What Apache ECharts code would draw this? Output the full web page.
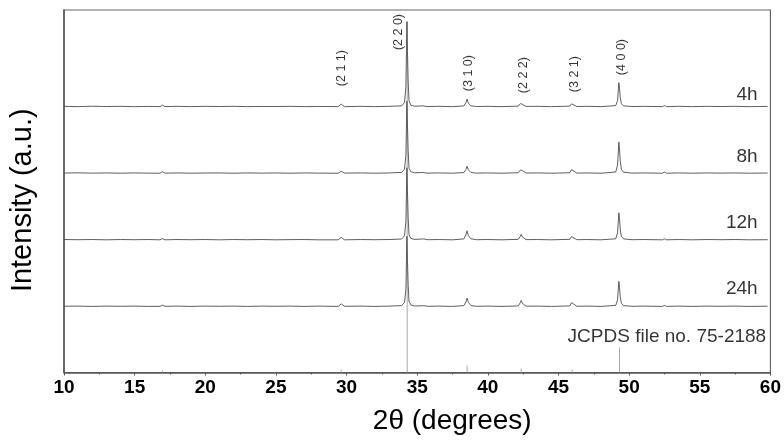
<!DOCTYPE html>
<html>
<head>
<meta charset="utf-8">
<script src="https://cdn.jsdelivr.net/npm/echarts@6/dist/echarts.min.js"></script>
<style>
html,body{margin:0;padding:0;background:#fff;}
#chart{width:784px;height:441px;}
</style>
</head>
<body>
<div id="chart"></div>
<script>
// ---- data (2θ in degrees, intensity in arbitrary units above each pattern's baseline) ----
const sampleNames = ['4h', '8h', '12h', '24h'];
const xTicks = [10, 15, 20, 25, 30, 35, 40, 45, 50, 55, 60];

const pattern4h = [[10,0.3],[11,0],[12,0.4],[13,0.1],[14,0.3],[15,0],[16,0.2],[16.8,0],[16.97,1.5],[17.15,0],[18,0.3],[19,0],[20,0.3],[21,0.1],[22,0.3],[23,0],[24,0.2],[25,0.1],[26,0.3],[27,0],[28,0.2],[29.4,0],[29.62,2.5],[29.85,0],[31,0.3],[32,0],[33,0.3],[33.9,0.8],[34.1,4],[34.2,20],[34.27,85],[34.31,55],[34.36,25],[34.42,6],[34.55,1.5],[34.8,0.4],[35.4,0.8],[35.7,0.1],[36.5,0.3],[37.5,0],[38.3,0.7],[38.45,4],[38.53,7.5],[38.62,3.5],[38.8,0.8],[39.2,0.1],[40,0.3],[41,0],[42.15,0.5],[42.3,3],[42.36,4.5],[42.45,2.3],[42.7,0.2],[43.5,0.3],[44.5,0],[45.8,0.5],[45.92,2.8],[45.97,3.7],[46.06,1.8],[46.3,0.1],[47,0.3],[48,0],[49.05,1],[49.18,6],[49.27,24],[49.32,18],[49.37,9],[49.45,3],[49.6,0.8],[50.2,0.1],[51,0.3],[52.35,0],[52.5,1],[52.65,0],[53.5,0.3],[54.5,0],[55.5,0.3],[56.5,0.1],[57.5,0.3],[58.5,0],[59.8,0.2]];

const pattern8h = [[10,0.2],[11,0.4],[12,0.1],[13,0.3],[14,0],[15,0.3],[16,0.1],[16.8,0],[16.97,1.5],[17.15,0.1],[18,0.3],[19,0],[20,0.2],[21,0.3],[22,0],[23,0.3],[24,0.1],[25,0.3],[26,0],[27,0.3],[28,0.1],[29.4,0],[29.62,2],[29.85,0.1],[31,0.3],[32,0],[33,0.3],[33.9,0.8],[34.1,4],[34.2,18],[34.27,72],[34.31,48],[34.36,22],[34.42,5],[34.55,1.5],[34.8,0.4],[35.4,0.7],[35.7,0.1],[36.5,0.3],[37.5,0],[38.3,0.7],[38.45,3.8],[38.53,7],[38.62,3.4],[38.8,0.8],[39.2,0.1],[40,0.3],[41,0],[42.15,0.5],[42.3,3.2],[42.36,5],[42.45,2.6],[42.7,0.2],[43.5,0.3],[44.5,0],[45.8,0.5],[45.92,3.6],[45.97,5],[46.06,2.4],[46.3,0.1],[47,0.3],[48,0],[49.05,1.2],[49.18,8],[49.27,31],[49.32,24],[49.37,12],[49.45,4],[49.6,1],[50.2,0.1],[51,0.3],[52.35,0],[52.5,1.2],[52.65,0],[53.5,0.3],[54.5,0],[55.5,0.3],[56.5,0.1],[57.5,0.3],[58.5,0],[59.8,0.2]];

const pattern12h = [[10,0.3],[11,0.1],[12,0.3],[13,0],[14,0.3],[15,0.1],[16,0.3],[16.8,0],[16.97,1.2],[17.15,0],[18,0.3],[19,0.1],[20,0.3],[21,0],[22,0.3],[23,0.1],[24,0.3],[25,0],[26,0.2],[27,0.3],[28,0],[29.4,0],[29.62,2.5],[29.85,0],[31,0.3],[32,0.1],[33,0.3],[33.9,0.8],[34.1,4],[34.2,18],[34.27,72],[34.31,48],[34.36,22],[34.42,5],[34.55,1.5],[34.8,0.4],[35.45,0.9],[35.75,0.1],[36.5,0.3],[37.5,0],[38.3,0.9],[38.45,5],[38.53,9],[38.62,4.3],[38.8,1],[39.2,0.1],[40,0.3],[41,0],[42.15,0.5],[42.3,3.5],[42.36,5.5],[42.45,2.8],[42.7,0.2],[43.5,0.3],[44.5,0],[45.8,0.5],[45.92,3.2],[45.97,4.5],[46.06,2.2],[46.3,0.1],[47,0.3],[48,0],[49.05,1],[49.18,7],[49.27,27],[49.32,21],[49.37,10],[49.45,3.5],[49.6,0.9],[50.2,0.1],[51,0.3],[52.35,0],[52.5,1],[52.65,0],[53.5,0.3],[54.5,0],[55.5,0.3],[56.5,0.1],[57.5,0.3],[58.5,0],[59.8,0.1]];

const pattern24h = [[10,0.2],[11,0.3],[12,0],[13,0.3],[14,0.1],[15,0.3],[16,0],[16.8,0.1],[16.97,1.2],[17.15,0.1],[18,0.3],[19,0],[20,0.3],[21,0.1],[22,0.3],[23,0],[24,0.3],[25,0.1],[26,0.3],[27,0],[28,0.3],[29.4,0],[29.62,2.5],[29.85,0.1],[31,0.3],[32,0],[33,0.3],[33.9,0.8],[34.1,4],[34.2,17],[34.27,70],[34.31,46],[34.36,21],[34.42,5],[34.55,1.5],[34.8,0.4],[35.45,0.7],[35.75,0.1],[36.5,0.3],[37.5,0],[38.3,0.8],[38.45,4.5],[38.53,8.3],[38.62,4],[38.8,0.9],[39.2,0.1],[40,0.3],[41,0],[42.15,0.5],[42.3,3.8],[42.36,6],[42.45,3],[42.7,0.2],[43.5,0.3],[44.5,0],[45.8,0.5],[45.92,3.8],[45.97,5.3],[46.06,2.6],[46.3,0.1],[47,0.3],[48,0],[49.05,1],[49.18,6.5],[49.27,25],[49.32,19],[49.37,9.5],[49.45,3.2],[49.6,0.8],[50.2,0.1],[51,0.3],[52.35,0],[52.5,1],[52.65,0],[53.5,0.3],[54.5,0],[55.5,0.3],[56.5,0.1],[57.5,0.3],[58.5,0],[59.8,0.2]];

// JCPDS 75-2188 reference sticks: [2θ, relative height]
const jcpdsSticks = [[16.97,2],[29.62,3],[34.29,350],[38.53,7],[42.36,4],[45.97,3],[49.32,25]];

// Miller indices: [2θ, level, text]
const hklLabels = [[29.64,304,'(2 1 1)'],[33.69,340,'(2 2 0)'],[38.66,299,'(3 1 0)'],[42.53,297,'(2 2 2)'],[46.14,298,'(3 2 1)'],[49.44,315,'(4 0 0)']];

// ---- layout (stacking offsets and label placement) ----
const offsets = [265.5, 199, 132.5, 66];
const nameLevels = [277, 215, 149.3, 84];
const nameX = 59.1;
const jcpdsLabel = [59.7, 35.3, 'JCPDS file no. 75-2188'];

const patterns = [pattern4h, pattern8h, pattern12h, pattern24h];
const FONT = '"Liberation Sans", Arial, sans-serif';

const series = [];
series.push({
  type: 'bar',
  data: jcpdsSticks,
  barWidth: 1,
  itemStyle: { color: '#a8a8a8' },
  silent: true,
  z: 1
});
patterns.forEach((p, i) => {
  series.push({
    type: 'line',
    name: sampleNames[i],
    data: p.map(d => [d[0], d[1] + offsets[i]]),
    showSymbol: false,
    symbol: 'none',
    lineStyle: { color: '#4d4d4d', width: 0.9 },
    z: 2
  });
});
series.push({
  type: 'scatter',
  data: hklLabels,
  symbolSize: 0.1,
  itemStyle: { color: 'rgba(0,0,0,0)' },
  label: {
    show: true, position: 'inside', rotate: 90,
    formatter: p => p.data[2],
    fontSize: 12.5, color: '#000', fontFamily: FONT
  },
  z: 5
});
series.push({
  type: 'scatter',
  data: sampleNames.map((n, i) => [nameX, nameLevels[i], n]).concat([jcpdsLabel]),
  symbolSize: 0.1,
  itemStyle: { color: 'rgba(0,0,0,0)' },
  label: {
    show: true, position: 'left', distance: 0,
    formatter: p => p.data[2],
    fontSize: 19, color: '#000', fontFamily: FONT
  },
  z: 5
});

const chart = echarts.init(document.getElementById('chart'), null, { renderer: 'canvas' });
chart.setOption({
  animation: false,
  backgroundColor: '#fff',
  grid: { left: 64, right: 12.5, top: 10, bottom: 68.5, show: true, borderColor: '#666', borderWidth: 1.2, backgroundColor: 'transparent' },
  xAxis: {
    type: 'value', min: xTicks[0], max: xTicks[xTicks.length - 1], interval: 5,
    axisLine: { lineStyle: { color: '#555', width: 1.5 } },
    axisTick: { length: 3, lineStyle: { color: '#555' } },
    minorTick: { show: true, splitNumber: 2, length: 2, lineStyle: { color: '#555' } },
    splitLine: { show: false },
    axisLabel: { fontSize: 19, fontWeight: 'bold', color: '#000', margin: 6, fontFamily: FONT },
    name: '2θ (degrees)', nameLocation: 'middle', nameGap: 35,
    nameTextStyle: { fontSize: 28, color: '#000', fontFamily: FONT, padding: [0, 0, 0, 70] }
  },
  yAxis: {
    type: 'value', min: 0, max: 362,
    axisLine: { show: true, lineStyle: { color: '#555', width: 1.5 } },
    axisTick: { show: false }, axisLabel: { show: false }, splitLine: { show: false },
    name: 'Intensity (a.u.)', nameLocation: 'middle', nameGap: 27,
    nameTextStyle: { fontSize: 29, color: '#000', fontFamily: FONT, padding: [0, 18, 0, 0] }
  },
  series: series
});
</script>
</body>
</html>
